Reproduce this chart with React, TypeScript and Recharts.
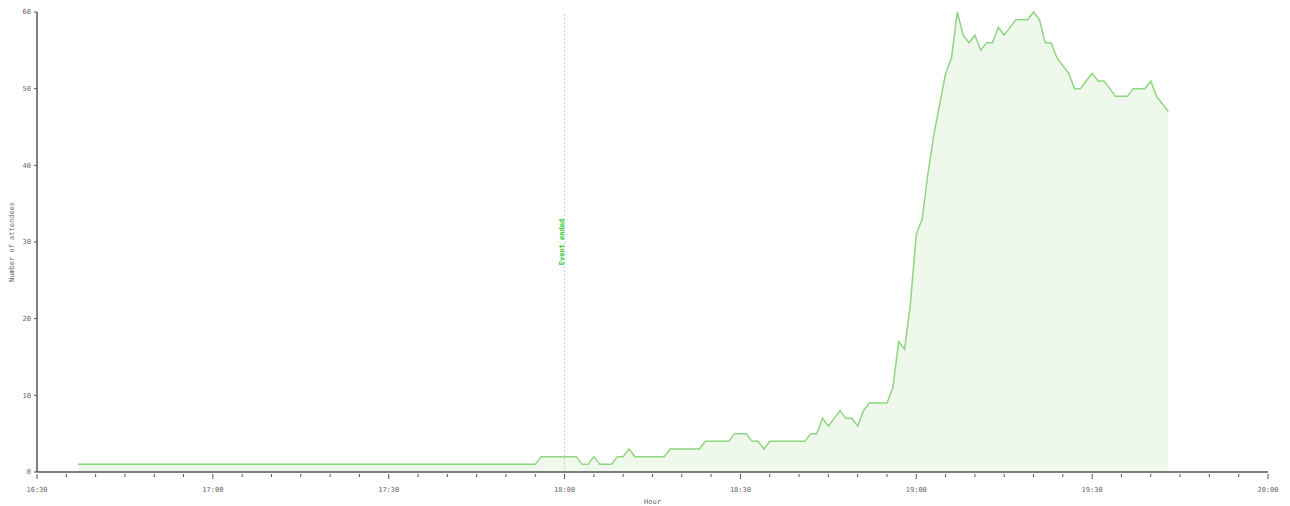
import { Area, AreaChart, ReferenceLine, XAxis, YAxis } from 'recharts';

// vertices of the attendee curve (time of day, count)
const times = [
  '16:37', '17:55', '17:56', '18:02', '18:03', '18:04', '18:05', '18:06', '18:08', '18:09',
  '18:10', '18:11', '18:12', '18:17', '18:18', '18:23', '18:24', '18:28', '18:29', '18:31',
  '18:32', '18:33', '18:34', '18:35', '18:41', '18:42', '18:43', '18:44', '18:45', '18:46',
  '18:47', '18:48', '18:49', '18:50', '18:51', '18:52', '18:55', '18:56', '18:57', '18:58',
  '18:59', '19:00', '19:01', '19:02', '19:03', '19:04', '19:05', '19:06', '19:07', '19:08',
  '19:09', '19:10', '19:11', '19:12', '19:13', '19:14', '19:15', '19:16', '19:17', '19:19',
  '19:20', '19:21', '19:22', '19:23', '19:24', '19:25', '19:26', '19:27', '19:28', '19:29',
  '19:30', '19:31', '19:32', '19:33', '19:34', '19:36', '19:37', '19:39', '19:40', '19:41',
  '19:42', '19:43',
];
const attendees = [
  1, 1, 2, 2, 1, 1, 2, 1, 1, 2,
  2, 3, 2, 2, 3, 3, 4, 4, 5, 5,
  4, 4, 3, 4, 4, 5, 5, 7, 6, 7,
  8, 7, 7, 6, 8, 9, 9, 11, 17, 16,
  22, 31, 33, 39, 44, 48, 52, 54, 60, 57,
  56, 57, 55, 56, 56, 58, 57, 58, 59, 59,
  60, 59, 56, 56, 54, 53, 52, 50, 50, 51,
  52, 51, 51, 50, 49, 49, 50, 50, 51, 49,
  48, 47,
];
const hourLabels = ['16:30', '17:00', '17:30', '18:00', '18:30', '19:00', '19:30', '20:00'];
const countTicks = [0, 10, 20, 30, 40, 50, 60];
const eventEnd = '18:00';

const toMin = (t: string) => {
  const [h, m] = t.split(':').map(Number);
  return h * 60 + m;
};
const fmt = (m: number) => `${Math.floor(m / 60)}:${String(m % 60).padStart(2, '0')}`;

const data = times.map((t, i) => ({ t: toMin(t), count: attendees[i] }));
const xMin = toMin(hourLabels[0]);
const xMax = toMin(hourLabels[hourLabels.length - 1]);
const minorTicks: number[] = [];
for (let m = xMin; m <= xMax; m += 5) minorTicks.push(m);

const FONT = '"DejaVu Sans Mono", monospace';

function HourTick({ x, y, payload }: any) {
  const major = payload.value % 30 === 0;
  return (
    <g>
      <line x1={x} x2={x} y1={y} y2={y + (major ? 5 : 3)} stroke="#555" />
      {major && (
        <text x={x} y={y + 18} textAnchor="middle" fontSize={7} fill="#666" fontFamily={FONT}>
          {fmt(payload.value)}
        </text>
      )}
    </g>
  );
}

function EventLabel({ viewBox }: any) {
  const x = viewBox.x - 1;
  const y = 234;
  return (
    <text x={x} y={y} transform={`rotate(-90 ${x} ${y})`} textAnchor="middle" fontSize={7}
      fontWeight="bold" fill="#33cc33" fontFamily={FONT}>
      Event ended
    </text>
  );
}

export default function App() {
  return (
    <AreaChart width={1274} height={498} data={data} margin={{ top: 4, right: 14, bottom: 0, left: 0 }}>
      <XAxis
        dataKey="t"
        type="number"
        domain={[xMin, xMax]}
        ticks={minorTicks}
        interval={0}
        tick={<HourTick />}
        tickSize={0}
        tickLine={false}
        height={34}
        axisLine={{ stroke: '#555', strokeWidth: 1.5 }}
        label={{ value: 'Hour', position: 'insideBottom', offset: 2, fontSize: 7, fill: '#666', fontFamily: FONT }}
      />
      <YAxis
        domain={[0, 60]}
        ticks={countTicks}
        width={29}
        tickSize={3}
        tickMargin={3}
        tick={{ fontSize: 7, fill: '#666', fontFamily: FONT }}
        tickLine={{ stroke: '#555' }}
        axisLine={{ stroke: '#555', strokeWidth: 1.5 }}
        label={{ value: 'Number of attendees', angle: -90, position: 'insideLeft', offset: 4, fontSize: 7, fill: '#666', fontFamily: FONT, style: { textAnchor: 'middle' } }}
      />
      <ReferenceLine x={toMin(eventEnd)} stroke="#cccccc" strokeDasharray="2 2" label={<EventLabel />} />
      <Area
        type="linear"
        dataKey="count"
        stroke="#8ed67f"
        strokeWidth={1.5}
        fill="#8ed67f"
        fillOpacity={0.15}
        dot={false}
        activeDot={false}
        isAnimationActive={false}
      />
    </AreaChart>
  );
}
